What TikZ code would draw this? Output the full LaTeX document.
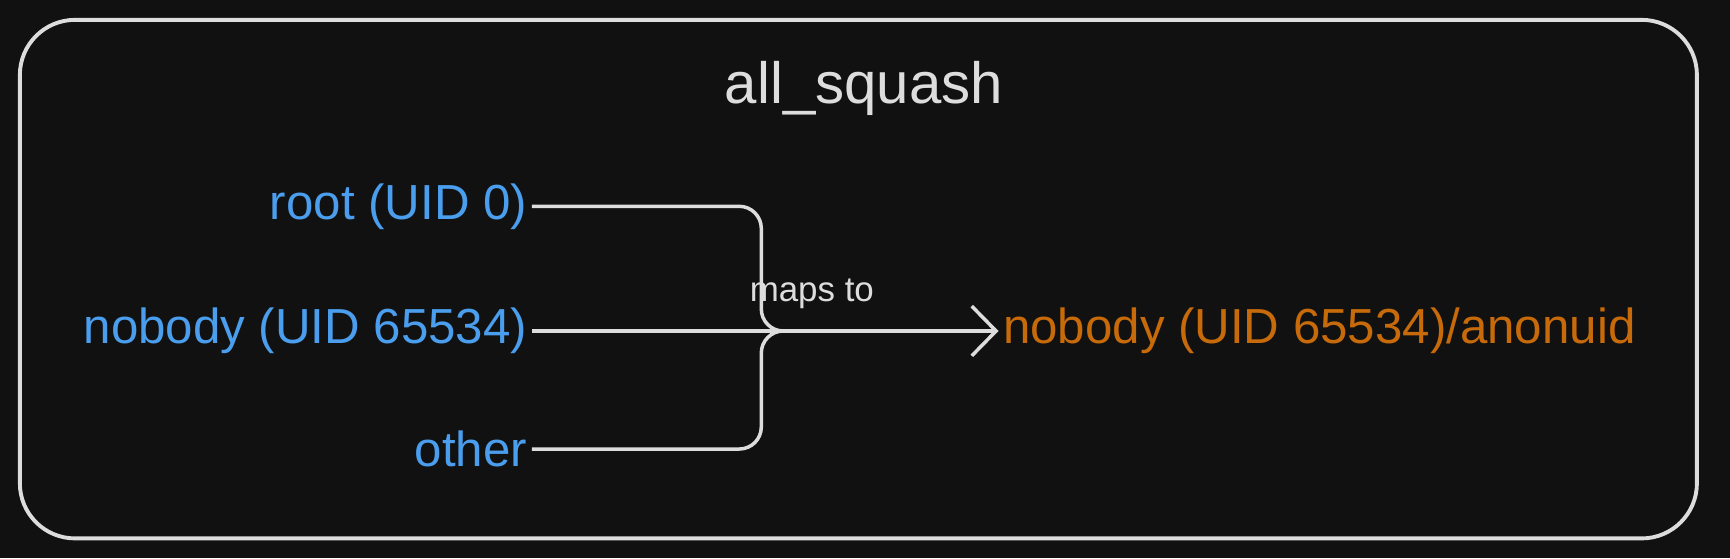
\documentclass[tikz,border=0pt]{standalone}
\usepackage{fontspec}
\setmainfont{Liberation Sans}
\usetikzlibrary{arrows.meta,positioning}
\definecolor{bgdark}{HTML}{111111}
\definecolor{wirecol}{HTML}{DDDDDD}
\definecolor{userblue}{HTML}{4A9EED}
\definecolor{maporange}{HTML}{C76A0A}
\tikzset{
  user/.style={text=userblue,font=\fontsize{12.7}{15}\selectfont,inner sep=1pt,anchor=east},
  target/.style={text=maporange,font=\fontsize{12.7}{15}\selectfont,inner sep=1pt,anchor=west},
  wire/.style={draw=wirecol,line width=0.9pt,rounded corners=0.2cm},
}
\begin{document}
\begin{tikzpicture}
  % canvas
  \fill[bgdark] (0,0) rectangle (15.68,-5.06);
  \useasboundingbox (0,0) rectangle (15.68,-5.06);
  \draw[wirecol,line width=1pt,rounded corners=0.5cm] (0.18,-0.18) rectangle (15.38,-4.88);
  \node[text=wirecol,font=\fontsize{15}{18}\selectfont] (title) at (7.83,-0.80) {all\_squash};
  % users
  \node[user] (root) at (4.82,-1.87) {root (UID 0)};
  \node[user] (nobody) at (4.82,-3.00) {nobody (UID 65534)};
  \node[user] (other) at (4.82,-4.07) {other};
  \node[target] (anon) at (9.05,-3.00) {nobody (UID 65534)/anonuid};
  \coordinate (bend) at (6.90,-3.00);
  \coordinate (join) at (7.10,-3.00);
  % connectors
  \draw[wire] (root.east) -| (bend) -- (join);
  \draw[wire] (other.east) -| (bend) -- (join);
  \draw[wire,-{Straight Barb[length=0.22cm,width=0.45cm]}] (nobody.east) -- (anon.west)
    node[pos=0.6,above=2pt,text=wirecol,font=\fontsize{9}{11}\selectfont] {maps to};
\end{tikzpicture}
\end{document}
